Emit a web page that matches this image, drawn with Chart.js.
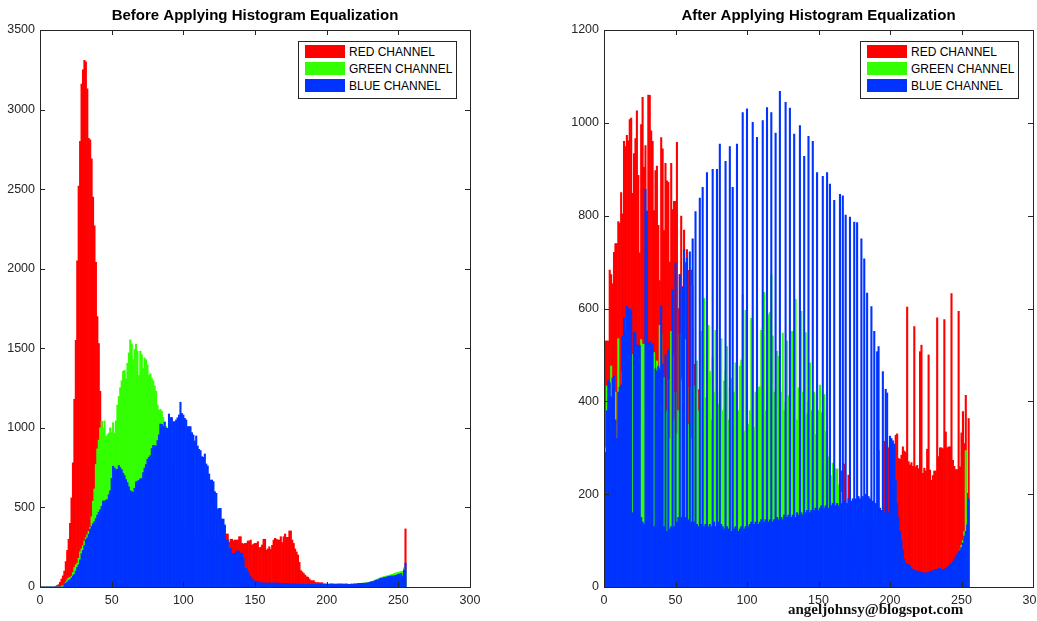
<!DOCTYPE html>
<html lang="en">
<head>
  <meta charset="UTF-8">
  <title>Histogram Equalization</title>
  <script src="https://cdn.jsdelivr.net/npm/chart.js"></script>
  <style>
    body {
      margin: 0;
      width: 1037px;
      height: 621px;
      overflow: hidden;
      background: #fff;
      position: relative;
      font-family: 'Liberation Sans', Arial, sans-serif;
    }
    canvas {
      position: absolute;
      top: 0;
    }
    .legend {
      position: absolute;
      width: 157px;
      height: 54px;
      border: 1px solid #262626;
      background: #fff;
      padding-top: 2px;
      box-sizing: content-box;
    }
    .legend .row {
      height: 17px;
      line-height: 17px;
      font-size: 12px;
      color: #000;
      white-space: nowrap;
    }
    .legend .sw {
      display: inline-block;
      width: 40px;
      height: 13px;
      margin: 0 4px 0 6px;
      vertical-align: -2px;
    }
    .mark {
      position: absolute;
      left: 788px;
      top: 601px;
      font: bold 15px 'Liberation Serif', 'Times New Roman', serif;
      color: #111;
    }
  </style>
</head>
<body>
  <canvas id="beforeChart" width="518" height="621" style="left:0"></canvas>
  <canvas id="afterChart" width="518" height="621" style="left:519px"></canvas>
  <div class="legend" id="legendBefore" style="left:298px;top:41px"></div>
  <div class="legend" id="legendAfter" style="left:860px;top:41px"></div>
  <div class="mark">angeljohnsy@blogspot.com</div>

<script>
  const seriesNames = ['RED CHANNEL', 'GREEN CHANNEL', 'BLUE CHANNEL'];
  const seriesColors = ['#ff0000', '#33ff00', '#0033ff'];
  const xTicks = [0, 50, 100, 150, 200, 250, 300];
  const beforeYTicks = [0, 500, 1000, 1500, 2000, 2500, 3000, 3500];
  const afterYTicks = [0, 200, 400, 600, 800, 1000, 1200];

  // 이퀄라이제이션 전 (bins 0..255)
  const beforeRed = [
    0,0,0,0,0,0,0,0,0,0, 0,5,10,15,30,50,70,100,160,230,
    300,400,560,780,1180,1550,2050,2520,2800,3160, 3250,3310,3300,3130,2820,2810,2690,2450,2270,2040,
    1700,1530,1230,1040,880,760,660,590,530,490, 460,440,432,418,410,398,392,380,372,362,
    350,344,338,330,326,320,318,314,312,310, 306,304,301,300,298,297,295,294,293,292,
    291,290,290,289,288,288,287,286,286,285, 285,284,284,283,283,282,282,282,281,281,
    281,280,280,281,282,283,284,285,286,287, 288,289,290,291,292,293,294,295,296,298,
    300,301,302,302,290,295,300,290,285,300, 333,333,281,300,300,290,295,295,295,316,
    316,274,270,274,274,289,289,295,264,270, 274,274,285,247,250,264,300,300,232,240,
    253,237,262,295,306,300,295,295,316,279, 316,333,312,312,352,352,295,274,239,220,
    201,155,103,95,85,75,65,61,50,40, 40,40,30,27,28,27,26,27,19,20,
    19,18,19,20,19,19,18,19,19,20, 19,19,18,19,19,15,16,15,15,14,
    15,15,16,15,15,14,15,15,16,15, 15,14,15,15,16,15,15,15,14,15,
    15,16,40,65,30,25,20,20,25,30, 30,35,35,40,60,365
  ];
  const beforeGreen = [
    0,0,0,0,0,0,0,0,0,0, 0,0,0,0,0,5,10,20,30,45,
    57,60,68,90,123,140,149,180,221,240, 260,290,310,330,350,375,441,539,616,770,
    868,923,1000,1040,1000,1044,945,956,967,1000, 971,1033,967,1044,1143,1197,1252,1296,1355,1362,
    1307,1406,1471,1553,1526,1428,1493,1526,1482,1329, 1482,1460,1373,1439,1428,1395,1329,1340,1311,1296,
    1263,1230,1143,1110,1117,1105,1066,1040,1010,990, 930,860,790,720,650,580,520,470,430,400,
    380,360,340,330,320,312,305,302,300,298, 295,292,288,284,280,275,270,262,255,248,
    240,232,222,207,198,190,180,170,160,150, 145,135,125,110,95,80,65,48,42,40,
    38,36,34,33,32,31,30,29,28,27, 26,25,24,23,22,21,20,20,19,19,
    18,18,17,17,16,16,15,15,14,14, 14,13,13,13,12,12,12,12,11,11,
    11,11,10,10,10,10,10,10,10,10, 10,10,10,10,10,10,10,10,12,12,
    12,12,12,13,13,13,13,14,14,14, 15,15,15,16,16,17,17,18,18,19,
    19,20,21,22,23,24,25,26,27,28, 30,32,36,40,44,48,52,56,60,63,
    66,68,70,72,75,78,80,84,88,90, 92,95,98,100,121,100
  ];
  const beforeBlue = [
    0,0,0,0,0,0,0,0,0,0, 0,0,0,0,0,0,0,20,24,30,
    42,45,57,70,79,100,123,140,170,210, 230,260,298,309,331,364,380,397,410,430,
    452,470,485,507,540,540,545,550,580,605, 682,759,748,737,740,763,750,737,715,700,
    675,656,630,605,600,594,620,660,665,670, 680,682,719,748,770,803,815,825,870,890,
    888,886,920,956,1024,1022,1008,1035,1000,997, 1087,1065,1065,1039,1039,1050,1064,1081,1161,1091,
    1081,1060,1050,1008,1008,1008,970,955,918,949, 886,865,857,819,815,836,773,760,710,672,
    672,662,599,589,490,494,494,427,427,390, 295,295,243,243,207,212,212,222,228,222,
    212,212,180,117,117,100,75,65,50,44, 34,34,34,30,27,26,25,25,24,25,
    26,25,24,25,26,25,24,23,22,22, 21,22,21,20,20,21,20,19,20,19,
    18,19,18,17,18,17,17,18,17,16, 17,16,17,17,16,17,17,16,17,17,
    17,16,17,17,18,17,17,16,17,17, 17,18,17,17,18,17,17,18,18,19,
    19,20,22,23,23,24,23,24,25,27, 30,33,34,35,42,44,45,52,55,56,
    59,60,64,66,68,69,70,69,73,75, 80,82,84,70,107,150
  ];

  // 이퀄라이제이션 후 (bins 0..255)
  const afterRed = [
    530,530,530,530,683,673,653,721,740,740, 787,784,850,804,960,949,973,961,1007,1010,
    848,934,966,1026,887,720,996,1055,904,951, 740,1060,1059,983,960,811,897,907,779,660,
    968,944,768,913,875,872,700,913,813,831, 831,958,600,673,799,647,769,699,727,682,
    636,683,560,480,430,432,425,110,90,120, 100,80,110,95,100,120,90,105,85,240,
    100,90,110,85,95,120,100,80,110,95, 100,85,110,90,100,120,95,85,110,100,
    90,100,115,95,85,209,100,90,110,95, 100,85,218,100,90,110,95,100,85,209,
    100,90,110,95,100,85,110,95,100,90, 110,95,100,85,110,100,90,95,110,100,
    85,95,110,100,90,225,100,110,95,100, 90,110,100,95,85,110,100,95,110,100,
    90,100,110,254,95,100,250,110,265,100, 95,241,110,100,120,130,140,150,120,130,
    140,150,130,140,150,140,130,150,140,130, 120,130,294,140,150,160,314,310,306,300,
    200,180,200,220,327,330,277,275,284,302, 293,290,603,270,263,268,260,561,259,262,
    255,507,521,245,256,250,297,500,252,230, 240,250,250,580,281,300,300,298,576,334,
    300,302,302,632,273,260,253,253,594,259, 332,378,309,413,202,363
  ];
  const afterGreen = [
    433,300,433,250,380,476,232,350,420,300, 535,360,300,463,340,386,420,474,320,360,
    501,501,380,320,410,350,533,523,523,523, 380,300,460,340,505,505,420,487,330,564,
    544,360,451,300,380,447,320,551,498,360, 419,330,380,544,444,451,330,533,390,350,
    430,320,650,434,360,487,380,420,551,330, 622,408,380,564,465,360,495,420,553,350,
    394,420,535,380,444,465,518,360,430,449, 365,420,483,483,380,476,489,630,336,596,
    420,351,380,579,573,344,420,604,431,431, 553,501,635,380,420,587,592,673,541,420,
    380,508,497,360,420,547,380,400,530,412, 380,551,551,400,620,360,429,380,594,420,
    380,548,373,400,483,380,360,420,329,437, 380,435,376,360,415,335,300,280,257,240,
    267,250,254,254,220,204,204,180,60,40, 30,35,40,30,35,40,30,35,40,30,
    35,40,30,35,40,30,35,40,30,35, 40,30,35,40,30,35,40,30,35,40,
    30,35,40,30,35,40,30,35,40,30, 28,26,25,27,25,24,26,25,24,26,
    25,24,26,25,24,26,25,24,26,25, 24,26,25,24,26,25,24,26,25,24,
    26,25,24,26,40,45,50,60,70,81, 90,100,120,294,65,80
  ];
  const afterBlue = [
    280,290,380,445,440,410,450,455,360,320, 420,430,435,540,580,550,605,600,600,595,
    160,550,548,522,520,520,150,140,135,857, 810,525,530,520,525,130,470,465,475,470,
    605,480,130,500,120,510,125,130,640,130, 698,140,150,673,150,646,727,150,708,145,
    722,140,750,140,809,135,130,838,135,861, 130,135,893,130,135,130,900,140,130,900,
    140,954,135,130,125,917,130,125,949,120, 861,125,130,954,120,125,130,1022,125,130,
    1030,130,135,140,1001,135,140,969,135,140, 145,1005,140,145,1033,140,145,1022,140,145,
    978,150,145,1068,150,145,155,1044,150,155, 1032,150,155,976,150,160,155,994,160,155,
    928,160,165,971,160,165,960,165,170,893, 165,170,175,885,170,175,893,170,868,175,
    180,833,175,180,175,846,180,843,185,801, 180,190,797,185,190,786,190,785,195,190,
    750,195,707,200,633,195,190,604,185,551, 180,507,518,170,165,464,160,426,418,160,
    325,320,315,308,230,180,150,120,100,80, 60,51,50,48,45,40,38,36,35,34,
    33,32,32,31,30,30,31,32,33,34, 35,36,38,38,40,40,38,37,38,40,
    42,45,48,50,55,60,65,70,75,80, 85,95,110,120,134,190
  ];

  const fontFamily = "'Liberation Sans', Arial, sans-serif";
  const axisColor = '#262626';

  // 축 박스 + 안쪽 눈금 (MATLAB 스타일)
  const framePlugin = {
    id: 'frame',
    afterDraw(chart) {
      const { ctx, chartArea: a, scales } = chart;
      const x = scales.x, y = scales.y;
      ctx.save();
      ctx.strokeStyle = axisColor;
      ctx.lineWidth = 1;
      ctx.strokeRect(Math.round(a.left) + 0.5, Math.round(a.top) + 0.5,
        Math.round(a.right - a.left), Math.round(a.bottom - a.top));
      ctx.beginPath();
      x.ticks.forEach(t => {
        const px = Math.round(x.getPixelForValue(t.value)) + 0.5;
        ctx.moveTo(px, a.bottom); ctx.lineTo(px, a.bottom - 5);
        ctx.moveTo(px, a.top); ctx.lineTo(px, a.top + 5);
      });
      y.ticks.forEach(t => {
        const py = Math.round(y.getPixelForValue(t.value)) + 0.5;
        ctx.moveTo(a.left, py); ctx.lineTo(a.left + 5, py);
        ctx.moveTo(a.right, py); ctx.lineTo(a.right - 5, py);
      });
      ctx.stroke();
      ctx.restore();
    }
  };

  function toPoints(arr) {
    return arr.map((v, i) => ({ x: i, y: v }));
  }

  function makeChart(id, title, series, yTicks, axisWidth, rightPad) {
    const ctx = document.getElementById(id).getContext('2d');
    return new Chart(ctx, {
      type: 'bar',
      data: {
        datasets: series.map((s, i) => ({
          label: seriesNames[i],
          data: toPoints(s),
          backgroundColor: seriesColors[i],
          borderWidth: 0,
          barPercentage: 1,
          categoryPercentage: 1,
          grouped: false,
          order: 3 - i
        }))
      },
      options: {
        responsive: false,
        animation: false,
        events: [],
        layout: { padding: { left: 0, right: rightPad, top: 0, bottom: 0 } },
        plugins: {
          legend: { display: false },
          tooltip: { enabled: false },
          title: {
            display: true,
            text: title,
            fullSize: false,
            color: '#000',
            font: { family: fontFamily, size: 15, weight: 'bold' },
            padding: { top: 7, bottom: 5 }
          }
        },
        scales: {
          x: {
            type: 'linear',
            offset: false,
            min: xTicks[0],
            max: xTicks[xTicks.length - 1],
            grid: { display: false, drawTicks: false },
            border: { display: false },
            afterBuildTicks: s => { s.ticks = xTicks.map(v => ({ value: v })); },
            ticks: {
              color: axisColor,
              padding: 6,
              maxRotation: 0,
              callback: v => String(v),
              font: { family: fontFamily, size: 12.5 }
            },
            afterFit: s => {
              s.height = 34;
              s.paddingLeft = 0; s.paddingRight = 0;
            }
          },
          y: {
            min: yTicks[0],
            max: yTicks[yTicks.length - 1],
            grid: { display: false, drawTicks: false },
            border: { display: false },
            afterBuildTicks: s => { s.ticks = yTicks.map(v => ({ value: v })); },
            ticks: {
              color: axisColor,
              padding: 5,
              callback: v => String(v),
              font: { family: fontFamily, size: 12.5 }
            },
            afterFit: s => {
              s.width = axisWidth;
              s.paddingTop = 0; s.paddingBottom = 0;
            }
          }
        }
      },
      plugins: [framePlugin]
    });
  }

  makeChart('beforeChart', 'Before Applying Histogram Equalization',
    [beforeRed, beforeGreen, beforeBlue], beforeYTicks, 40, 48);
  makeChart('afterChart', 'After Applying Histogram Equalization',
    [afterRed, afterGreen, afterBlue], afterYTicks, 85, 4);

  // 범례
  ['legendBefore', 'legendAfter'].forEach(id => {
    const box = document.getElementById(id);
    seriesNames.forEach((name, i) => {
      const row = document.createElement('div');
      row.className = 'row';
      row.innerHTML = `<span class="sw" style="background:${seriesColors[i]}"></span>${name}`;
      box.appendChild(row);
    });
  });
</script>
</body>
</html>
